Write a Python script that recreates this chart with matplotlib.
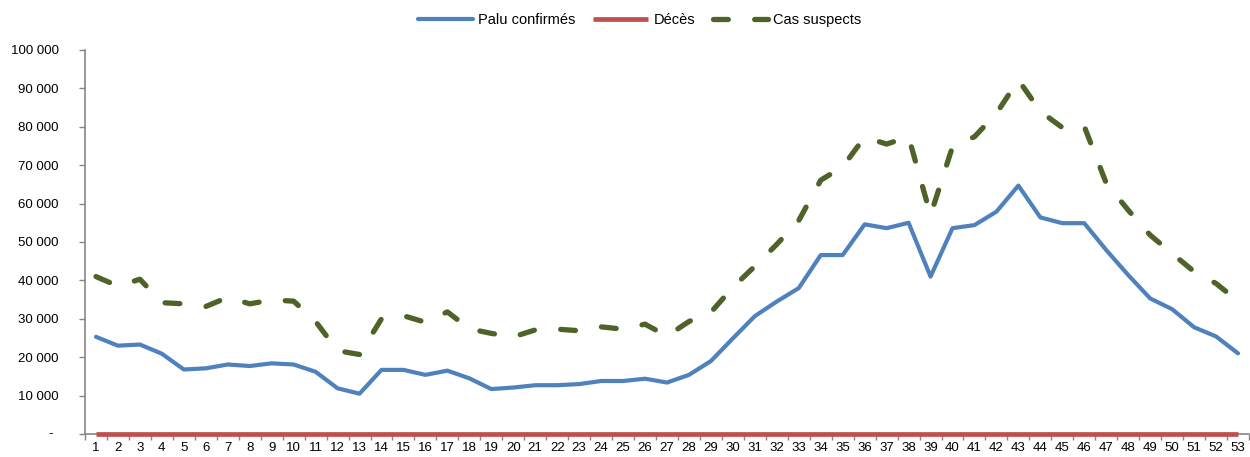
import matplotlib

matplotlib.use("Agg")
import matplotlib.pyplot as plt
from matplotlib.ticker import FuncFormatter, MultipleLocator

plt.rcParams["font.family"] = ["Liberation Sans", "DejaVu Sans"]

# Weekly series (semaines 1..53)
semaines = list(range(1, 54))
palu_confirmes = [
    25300, 23000, 23300, 20900, 16800, 17100, 18100, 17700, 18400, 18100,
    16200, 11900, 10500, 16700, 16700, 15400, 16500, 14500, 11700, 12100,
    12700, 12700, 13000, 13800, 13800, 14400, 13400, 15400, 19000, 24900,
    30700, 34500, 38000, 46600, 46600, 54600, 53600, 55000, 41000, 53600,
    54400, 57900, 64700, 56400, 54900, 54900, 47900, 41400, 35300, 32500,
    27800, 25400, 21000,
]
deces = [
    0, 0, 0, 0, 0, 0, 0, 0, 0, 0, 0, 0, 0, 0, 0, 0, 0, 0, 0, 0,
    0, 0, 0, 0, 0, 0, 0, 0, 0, 0, 0, 0, 0, 0, 0, 0, 0, 0, 0, 0,
    0, 0, 0, 0, 0, 0, 0, 0, 0, 0, 0, 0, 0,
]
cas_suspects = [
    41000, 38500, 40300, 34200, 33900, 33200, 35600, 33900, 34900, 34600,
    29300, 21700, 20700, 30000, 30800, 29100, 31800, 27400, 26200, 25300,
    27100, 27300, 26900, 27900, 27300, 28600, 25500, 29300, 31700, 38200,
    43700, 49400, 55600, 66100, 69600, 77300, 75500, 77400, 57000, 74800,
    77400, 83500, 92200, 84000, 79800, 80100, 65300, 58300, 51800, 47000,
    42300, 39200, 34600,
]

BLUE = "#4F81BD"
RED = "#C0504D"
GREEN = "#4F6228"
AXIS_GREY = "#868686"

fig = plt.figure(figsize=(12.5, 4.57), dpi=100)
ax = fig.add_axes([85 / 1250, 23 / 457, 1164 / 1250, 384 / 457])

ax.plot(semaines, palu_confirmes, color=BLUE, lw=3.0, solid_capstyle="round",
        solid_joinstyle="round", label="Palu confirmés", zorder=3)
ax.plot(semaines, deces, color=RED, lw=3.4, solid_capstyle="butt",
        label="Décès", zorder=4, clip_on=False)
ax.plot(semaines, cas_suspects, color=GREEN, lw=3.8, dashes=(2.8, 5.0),
        dash_capstyle="round", dash_joinstyle="round", label="Cas suspects",
        zorder=3)

ax.set_xlim(0.5, 53.5)
ax.set_ylim(0, 100000)

for side in ("top", "right"):
    ax.spines[side].set_visible(False)
for side in ("left", "bottom"):
    ax.spines[side].set_color(AXIS_GREY)
    ax.spines[side].set_linewidth(1.2)

# y axis: thousands with a space; zero gets its own dash label below
ax.yaxis.set_major_locator(MultipleLocator(10000))
ax.yaxis.set_major_formatter(
    FuncFormatter(lambda v, _: "" if v == 0 else f"{int(v):,}".replace(",", " "))
)
ax.tick_params(axis="y", direction="out", length=4, width=1.0, color=AXIS_GREY,
               pad=15, labelsize=9.5, labelcolor="black")
ax.annotate("-", xy=(0, 0), xycoords=ax.get_yaxis_transform(),
            xytext=(-25, 0), textcoords="offset points",
            ha="center", va="center", fontsize=9.5)

# x axis: category labels centred, tick marks between categories
ax.set_xticks(semaines)
ax.set_xticklabels([str(s) for s in semaines])
ax.set_xticks([s + 0.5 for s in range(0, 54)], minor=True)
ax.tick_params(axis="x", which="major", length=0, pad=6, labelsize=9.5,
               labelcolor="black")
ax.tick_params(axis="x", which="minor", direction="out", length=4, width=1.0,
               color=AXIS_GREY)

fig.legend(loc="center", bbox_to_anchor=(0.5116, 0.956), ncol=3, frameon=False,
           fontsize=10.5, handlelength=3.8, handletextpad=0.35, columnspacing=1.2)

fig.savefig("out.png", dpi=100)
